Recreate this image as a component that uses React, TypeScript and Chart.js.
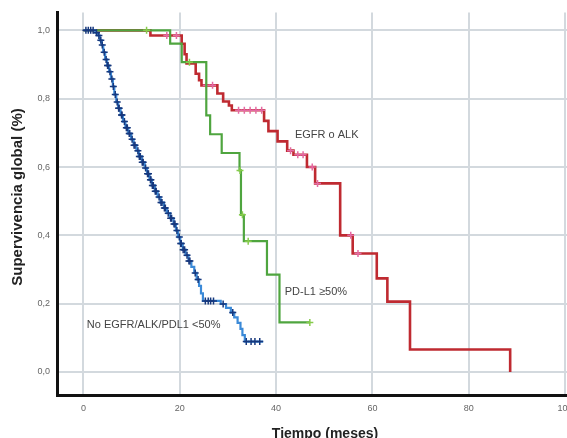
import React, { useEffect, useRef } from "react";
import { Chart, registerables } from "chart.js";

Chart.register(...registerables);

// ---------- Data ----------
const xTicks = [0, 20, 40, 60, 80, 100];
const yTicks = [0, 0.2, 0.4, 0.6, 0.8, 1.0];

// EGFR o ALK (event times, survival)
const redTimes = [0, 13.9, 20.4, 21.0, 21.4, 23.3, 24.0, 24.5, 27.8, 29.0, 30.2, 30.8, 37.5, 38.4, 40.3, 42.3, 43.6, 46.4, 48.1, 53.3, 55.9, 60.9, 63.1, 67.8, 88.6];
const redSurv = [1.0, 0.985, 0.961, 0.93, 0.903, 0.873, 0.854, 0.839, 0.815, 0.792, 0.78, 0.766, 0.735, 0.705, 0.675, 0.648, 0.636, 0.6, 0.552, 0.4, 0.347, 0.274, 0.206, 0.066, 0.0];
const redCensTimes = [17.3, 19.3, 25.5, 26.8, 32.2, 33.4, 34.6, 35.8, 37.0, 43.0, 44.5, 45.6, 47.5, 48.6, 55.5, 57.0];
const redCensSurv = [0.985, 0.985, 0.839, 0.839, 0.766, 0.766, 0.766, 0.766, 0.766, 0.648, 0.636, 0.636, 0.6, 0.552, 0.4, 0.347];

// PD-L1 >=50%
const greenTimes = [0, 18.0, 20.4, 25.5, 26.3, 28.7, 32.4, 32.7, 33.3, 38.1, 40.7, 47.0];
const greenSurv = [1.0, 0.961, 0.907, 0.751, 0.696, 0.641, 0.59, 0.46, 0.383, 0.285, 0.145, 0.145];
const greenCensTimes = [13.1, 22.0, 32.5, 33.0, 34.2, 47.0];
const greenCensSurv = [1.0, 0.907, 0.59, 0.46, 0.383, 0.145];

// No EGFR/ALK/PDL1 <50%
const blueTimes = [0, 2.5, 3.0, 3.4, 3.8, 4.1, 4.5, 4.9, 5.3, 5.7, 6.1, 6.4, 6.8, 7.2, 7.7, 8.2, 8.7, 9.3, 9.9, 10.4, 11.0, 11.5, 12.1, 12.7, 13.2, 13.7, 14.2, 14.8, 15.4, 16.0, 16.7, 17.3, 18.0, 18.7, 19.2, 19.6, 20.1, 20.6, 21.2, 21.8, 22.4, 23.0, 23.5, 24.0, 24.4, 24.8, 28.5, 29.6, 30.6, 31.3, 32.0, 32.6, 33.0, 33.5, 37.3];
const blueSurv = [1.0, 0.993, 0.985, 0.971, 0.957, 0.936, 0.915, 0.897, 0.879, 0.858, 0.836, 0.812, 0.79, 0.772, 0.752, 0.733, 0.715, 0.698, 0.681, 0.664, 0.648, 0.631, 0.614, 0.597, 0.58, 0.563, 0.546, 0.529, 0.512, 0.496, 0.48, 0.465, 0.45, 0.433, 0.414, 0.395, 0.376, 0.358, 0.342, 0.325, 0.308, 0.29, 0.271, 0.252, 0.23, 0.208, 0.199, 0.188, 0.174, 0.16, 0.144, 0.126, 0.108, 0.089, 0.089];
const blueCensTimes = [0.5, 1.0, 1.5, 2.0, 3.6, 4.3, 5.0, 5.5, 6.6, 7.0, 7.4, 8.0, 8.5, 9.6, 10.1, 10.7, 11.3, 11.8, 12.4, 12.9, 13.5, 14.0, 14.5, 15.1, 15.7, 16.3, 17.0, 17.6, 18.3, 19.0, 19.4, 19.9, 20.3, 21.0, 21.5, 22.1, 23.2, 23.8, 25.3, 25.9, 26.4, 27.0, 29.0, 31.0, 33.8, 34.8, 35.6, 36.6,
  2.7, 3.2, 3.9, 4.7, 5.1, 5.9, 6.2, 7.3, 7.9, 8.9, 9.1, 9.5, 10.5, 11.6, 12.2, 13.3, 13.9, 14.3, 14.9, 16.1, 16.8, 18.1, 18.8, 20.2, 20.7, 21.9];
const blueCensSurv = [1.0, 1.0, 1.0, 1.0, 0.971, 0.936, 0.897, 0.879, 0.812, 0.79, 0.772, 0.752, 0.733, 0.698, 0.681, 0.664, 0.648, 0.631, 0.614, 0.597, 0.58, 0.563, 0.546, 0.529, 0.512, 0.496, 0.48, 0.465, 0.45, 0.433, 0.414, 0.395, 0.376, 0.358, 0.342, 0.325, 0.29, 0.271, 0.208, 0.208, 0.208, 0.208, 0.199, 0.174, 0.089, 0.089, 0.089, 0.089,
  0.993, 0.985, 0.957, 0.915, 0.897, 0.858, 0.836, 0.772, 0.752, 0.715, 0.715, 0.698, 0.664, 0.631, 0.614, 0.58, 0.563, 0.546, 0.529, 0.496, 0.48, 0.45, 0.433, 0.376, 0.358, 0.325];

const groupLabels = ["EGFR o ALK", "PD-L1 \u226550%", "No EGFR/ALK/PDL1 <50%"];
const xTitle = "Tiempo (meses)";
const yTitle = "Supervivencia global (%)";

// label anchors in data units
const labelAnchorX = [43.9, 41.8, 0.7];
const labelAnchorY = [0.693, 0.234, 0.137];

const zip = (xs: number[], ys: number[]) => xs.map((x, i) => ({ x, y: ys[i] }));

const FONT = "'Liberation Sans', Arial, sans-serif";

const overlayPlugin = {
  id: "overlay",
  afterDraw(chart: any) {
    const { ctx, chartArea, scales } = chart;
    ctx.save();
    ctx.fillStyle = "#444";
    ctx.font = `11px ${FONT}`;
    ctx.textBaseline = "middle";
    ctx.textAlign = "left";
    groupLabels.forEach((t, i) => {
      ctx.fillText(t, scales.x.getPixelForValue(labelAnchorX[i]), scales.y.getPixelForValue(labelAnchorY[i]));
    });
    ctx.fillStyle = "#222";
    ctx.font = `bold 14px ${FONT}`;
    ctx.textAlign = "center";
    ctx.fillText(xTitle, (chartArea.left + chartArea.right) / 2, 434);
    ctx.font = `bold 15px ${FONT}`;
    ctx.translate(18, 197);
    ctx.rotate(-Math.PI / 2);
    ctx.fillText(yTitle, 0, 0);
    ctx.restore();
  },
};

export default function App() {
  const ref = useRef<HTMLCanvasElement | null>(null);
  useEffect(() => {
    if (!ref.current) return;
    document.body.style.overflow = "hidden";
    const lineDs = (label: string, data: any[], color: string, width: number, order: number) => ({
      type: "line" as const,
      label,
      data,
      borderColor: color,
      backgroundColor: color,
      borderWidth: width,
      stepped: "before" as const,
      pointRadius: 0,
      fill: false,
      order,
    });
    const censDs = (label: string, data: any[], color: string, order: number) => ({
      type: "line" as const,
      label,
      data,
      showLine: false,
      borderColor: color,
      backgroundColor: color,
      pointStyle: "cross" as const,
      pointRadius: 3.5,
      pointBorderWidth: 1.5,
      order,
    });
    const chart = new Chart(ref.current, {
      type: "line",
      data: {
        datasets: [
          censDs("bc", zip(blueCensTimes, blueCensSurv), "#17387d", 0),
          lineDs("blue", zip(blueTimes, blueSurv), "#3b8ad8", 2.2, 1),
          censDs("gc", zip(greenCensTimes, greenCensSurv), "#86cc4c", 2),
          lineDs("green", zip(greenTimes, greenSurv), "#4fa53f", 2.2, 3),
          censDs("rc", zip(redCensTimes, redCensSurv), "#e46aa3", 4),
          lineDs("red", zip(redTimes, redSurv), "#bf2a31", 2.6, 5),
        ],
      },
      options: {
        animation: false,
        responsive: false,
        events: [],
        layout: { padding: { top: 12, right: 7, left: 0, bottom: 0 } },
        plugins: { legend: { display: false }, tooltip: { enabled: false } },
        scales: {
          x: {
            type: "linear",
            min: -5.5,
            max: 105.8,
            afterBuildTicks: (s: any) => { s.ticks = xTicks.map((v) => ({ value: v })); },
            afterFit: (s: any) => { s.height = 43; },
            grid: { color: "#d3d9de", lineWidth: 2, drawTicks: false },
            border: { color: "#111", width: 3 },
            ticks: { autoSkip: false, maxRotation: 0, padding: 8, color: "#666", font: { size: 9, family: FONT }, callback: (v: any) => String(v) },
          },
          y: {
            type: "linear",
            min: -0.0673,
            max: 1.0526,
            afterBuildTicks: (s: any) => { s.ticks = yTicks.map((v) => ({ value: v })); },
            afterFit: (s: any) => { s.width = 57; },
            grid: { color: "#d3d9de", lineWidth: 2, drawTicks: false },
            border: { color: "#111", width: 3 },
            ticks: { autoSkip: false, padding: 7, color: "#666", font: { size: 9, family: FONT }, callback: (v: any) => Number(v).toFixed(1).replace(".", ",") },
          },
        },
      },
      plugins: [overlayPlugin],
    });
    return () => chart.destroy();
  }, []);
  return (
    <div style={{ position: "fixed", left: 0, top: 0, width: 567, height: 438, overflow: "hidden", background: "#fff" }}>
      <canvas ref={ref} width={600} height={438} style={{ width: 600, height: 438, display: "block" }} />
    </div>
  );
}
